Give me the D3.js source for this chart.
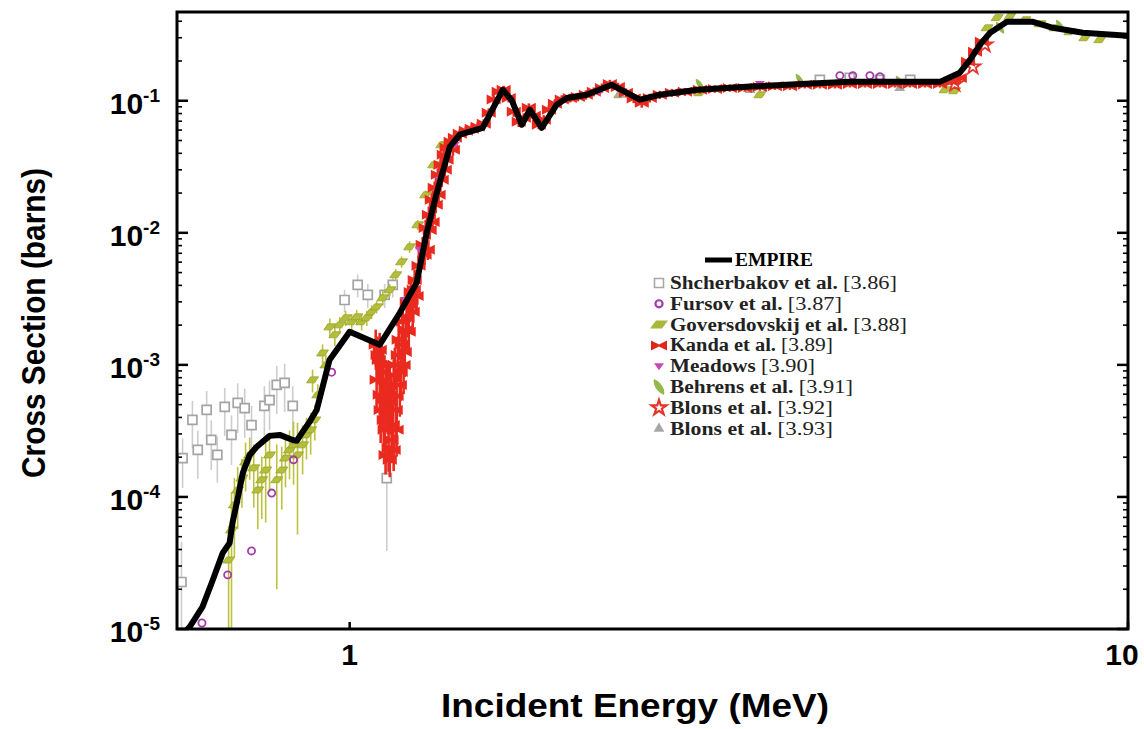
<!DOCTYPE html>
<html>
<head>
<meta charset="utf-8">
<script src="https://cdn.jsdelivr.net/npm/d3@7"></script>
<style>
    body { margin: 0; background: #fff; }
</style>
</head>
<body>
<div class="Canvas"></div>
<script>
// EMPIRE evaluation (energy in MeV, cross section in barns)
let empireE = [0.612, 0.623, 0.647, 0.667, 0.687, 0.701, 0.707, 0.716, 0.729, 0.744, 0.759, 0.789, 0.813, 0.845, 0.855,
    0.870, 0.888, 0.907, 0.923, 0.942, 1.0, 1.093, 1.160, 1.219, 1.256, 1.294, 1.345, 1.385, 1.482, 1.573, 1.615, 1.664,
    1.704, 1.765, 1.845, 1.901, 2.017, 2.171, 2.36, 2.503, 2.8, 3.27, 3.8, 4.39, 5.0, 5.73, 6.08, 6.27, 6.45, 6.65, 6.99,
    7.55, 8.01, 8.75, 10];
let empireS = [9.2e-6, 1.04e-5, 1.47e-5, 2.35e-5, 3.77e-5, 4.48e-5, 6.35e-5, 9.0e-5, 1.52e-4, 2.08e-4, 2.39e-4, 2.90e-4,
    2.95e-4, 2.70e-4, 2.66e-4, 3.11e-4, 3.70e-4, 4.56e-4, 6.8e-4, 1.09e-3, 1.78e-3, 1.42e-3, 2.48e-3, 4.18e-3, 1.0e-2,
    2.01e-2, 4.49e-2, 5.53e-2, 6.24e-2, 0.121, 0.101, 0.0658, 0.0855, 0.0624, 0.0933, 0.105, 0.111, 0.132, 0.102, 0.111,
    0.121, 0.128, 0.134, 0.139, 0.139, 0.139, 0.163, 0.205, 0.265, 0.327, 0.396, 0.396, 0.357, 0.327, 0.310];

// experimental sets: [energy, cross section, error]
let shcherbakov = [
    [0.608, 2.27e-5, 2.3e-5], [0.610, 1.97e-4, 8e-5], [0.628, 3.83e-4, 1.5e-4], [0.638, 2.27e-4, 9e-5],
    [0.655, 4.56e-4, 1.8e-4], [0.664, 2.70e-4, 1.1e-4], [0.676, 2.08e-4, 8e-5], [0.691, 4.8e-4, 1.9e-4],
    [0.705, 2.95e-4, 1.2e-4], [0.718, 5.15e-4, 2.1e-4], [0.733, 4.7e-4, 1.9e-4], [0.748, 3.5e-4, 1.4e-4],
    [0.777, 4.9e-4, 2.0e-4], [0.789, 5.4e-4, 2.2e-4], [0.806, 7.05e-4, 2.8e-4], [0.825, 7.3e-4, 2.9e-4],
    [0.845, 4.9e-4, 2.0e-4], [1.116, 1.39e-4, 1.0e-4],
    [0.985, 3.10e-3, 6e-4], [1.024, 4.04e-3, 8e-4], [1.055, 3.39e-3, 7e-4], [1.109, 3.39e-3, 7e-4], [1.136, 4.04e-3, 8e-4],
    [4.019, 0.144, 0.008], [4.39, 0.149, 0.008], [4.80, 0.144, 0.008], [5.25, 0.144, 0.008]
];
let fursov = [
    [0.646, 1.11e-5], [0.697, 2.57e-5], [0.748, 3.9e-5], [0.794, 1.07e-4], [0.847, 1.91e-4], [0.948, 8.8e-4],
    [1.27, 1.3e-2], [1.36, 4.5e-2], [4.264, 0.155], [4.43, 0.155], [4.66, 0.155], [4.80, 0.152]
];
let goversdovskij = [
    [0.699, 3.33e-5, 2.7e-5], [0.705, 5.62e-5, 5.3e-5], [0.711, 8.7e-5, 5.2e-5], [0.718, 1.13e-4, 5.6e-5],
    [0.727, 1.39e-4, 5.6e-5], [0.735, 1.84e-4, 7.4e-5], [0.744, 2.08e-4, 7.3e-5], [0.753, 1.66e-4, 8.3e-5],
    [0.762, 1.13e-4, 5.6e-5], [0.771, 1.35e-4, 6.7e-5], [0.780, 1.60e-4, 9.6e-5], [0.789, 2.08e-4, 1.0e-4],
    [0.806, 1.35e-4, 1.15e-4], [0.818, 1.60e-4, 8e-5], [0.827, 1.97e-4, 7.9e-5], [0.837, 2.27e-4, 9.1e-5],
    [0.847, 2.48e-4, 1.24e-4], [0.857, 2.08e-4, 1.56e-4], [0.870, 2.48e-4, 1e-4], [0.880, 2.95e-4, 1.03e-4],
    [0.891, 3.22e-4, 1.13e-4], [0.902, 3.83e-4, 1.15e-4],
    [0.896, 7.70e-4, 1.5e-4], [0.910, 5.93e-4, 1.2e-4], [0.923, 1.23e-3, 2e-4], [0.932, 1.0e-3, 2e-4],
    [0.943, 1.94e-3, 3e-4], [0.957, 1.69e-3, 3e-4], [0.971, 2.01e-3, 3e-4], [0.988, 2.27e-3, 3e-4],
    [1.006, 2.12e-3, 3e-4], [1.021, 2.31e-3, 3e-4], [1.036, 2.12e-3, 3e-4], [1.052, 2.27e-3, 3e-4],
    [1.067, 2.52e-3, 3e-4], [1.083, 2.75e-3, 3e-4], [1.103, 3.22e-3, 4e-4], [1.126, 3.70e-3, 4e-4],
    [1.146, 4.81e-3, 5e-4], [1.166, 6.03e-3, 6e-4], [1.194, 7.83e-3, 8e-4], [1.223, 1.15e-2, 1e-3],
    [1.252, 1.94e-2, 1.5e-3], [1.282, 3.27e-2, 2.5e-3], [1.313, 4.64e-2, 3e-3],
    [2.223, 0.111, 0.006], [2.818, 0.115, 0.006], [3.365, 0.111, 0.006], [5.82, 0.121, 0.006], [5.99, 0.119, 0.006],
    [6.59, 0.357, 0.015], [6.79, 0.426, 0.015], [7.05, 0.434, 0.015], [7.37, 0.411, 0.015], [7.71, 0.383, 0.015],
    [8.06, 0.357, 0.015], [8.42, 0.333, 0.015], [8.80, 0.300, 0.015], [9.20, 0.290, 0.015]
];
let kanda = [
    [1.080, 1.42e-3, 4.3e-4], [1.083, 7.70e-4, 3.1e-4], [1.090, 1.09e-3, 3.8e-4], [1.096, 4.56e-4, 2.0e-4],
    [1.103, 8.85e-4, 3.5e-4], [1.109, 3.22e-4, 1.3e-4], [1.116, 6.24e-4, 2.6e-4], [1.122, 2.35e-4, 8e-5],
    [1.129, 5.25e-4, 2.2e-4], [1.136, 3.51e-4, 1.4e-4], [1.143, 1.0e-3, 3.5e-4], [1.149, 5.82e-4, 2.4e-4],
    [1.156, 1.55e-3, 4.6e-4], [1.163, 8.85e-4, 3.5e-4], [1.170, 2.12e-3, 6.4e-4], [1.177, 1.25e-3, 4.4e-4],
    [1.184, 2.95e-3, 7.4e-4], [1.191, 1.78e-3, 5.3e-4], [1.198, 3.57e-3, 8.9e-4], [1.205, 2.52e-3, 7.6e-4],
    [1.212, 4.40e-3, 8.8e-4], [1.219, 3.33e-3, 8.3e-4], [1.226, 5.62e-3, 1.1e-3], [1.241, 8.11e-3, 1.2e-3],
    [1.086, 1.19e-3, 4.5e-4], [1.093, 5.93e-4, 2.5e-4], [1.099, 1.0e-3, 4.0e-4], [1.106, 3.83e-4, 1.5e-4],
    [1.112, 7.70e-4, 3.2e-4], [1.119, 4.98e-4, 2.0e-4], [1.126, 7.05e-4, 3.0e-4], [1.132, 2.70e-4, 9e-5],
    [1.139, 8.4e-4, 3.4e-4], [1.146, 4.56e-4, 1.8e-4], [1.153, 1.19e-3, 4.5e-4], [1.160, 7.05e-4, 3.0e-4],
    [1.166, 1.42e-3, 5.0e-4], [1.173, 1.0e-3, 4.0e-4], [1.180, 1.84e-3, 6.0e-4], [1.187, 2.27e-3, 6.5e-4],
    [1.194, 2.85e-3, 7.5e-4], [1.201, 3.10e-3, 8.0e-4], [1.209, 3.70e-3, 9.0e-4], [1.112, 2.08e-4, 6e-5],
    [1.126, 1.91e-4, 5e-5], [1.139, 2.27e-4, 7e-5], [1.149, 3.22e-4, 1.2e-4], [1.103, 5.43e-4, 2.1e-4],
    [1.093, 1.30e-3, 4.5e-4],
    [1.248, 6.81e-3, 1.1e-3], [1.267, 1.05e-2, 1.6e-3], [1.290, 1.63e-2, 2.2e-3], [1.313, 2.52e-2, 3.0e-3],
    [1.332, 3.57e-2, 3.8e-3], [1.357, 4.26e-2, 4.3e-3], [1.260, 7.43e-3, 1.2e-3], [1.278, 1.21e-2, 1.8e-3],
    [1.301, 1.94e-2, 2.5e-3], [1.325, 3.0e-2, 3.4e-3],
    [1.252, 1.09e-2, 1.6e-3], [1.264, 1.37e-2, 2.1e-3], [1.275, 1.78e-2, 2.1e-3], [1.286, 2.19e-2, 2.6e-3],
    [1.298, 2.75e-2, 3.3e-3], [1.309, 3.27e-2, 3.3e-3], [1.321, 3.90e-2, 3.9e-3], [1.332, 4.40e-2, 4.4e-3],
    [1.348, 4.89e-2, 4.9e-3], [1.365, 5.25e-2, 5.3e-3], [1.385, 5.62e-2, 4.5e-3], [1.410, 5.93e-2, 4.7e-3],
    [1.435, 6.14e-2, 4.9e-3], [1.460, 6.35e-2, 5.1e-3], [1.487, 6.70e-2, 5.4e-3], [1.509, 8.11e-2, 6.5e-3],
    [1.531, 0.102, 8e-3], [1.554, 0.117, 9e-3], [1.577, 0.121, 9e-3], [1.601, 0.105, 8e-3],
    [1.625, 0.0826, 7e-3], [1.649, 0.0693, 6e-3], [1.674, 0.0743, 6e-3], [1.699, 0.0885, 7e-3],
    [1.724, 0.0769, 6e-3], [1.750, 0.0658, 5e-3], [1.776, 0.0718, 6e-3], [1.803, 0.0855, 7e-3],
    [1.835, 0.0948, 8e-3], [1.873, 0.102, 8e-3], [1.918, 0.105, 8e-3], [1.964, 0.107, 8e-3],
    [2.011, 0.111, 9e-3], [2.059, 0.117, 9e-3], [2.109, 0.125, 0.01], [2.159, 0.134, 0.01],
    [2.211, 0.127, 0.01], [2.264, 0.115, 9e-3], [2.317, 0.104, 8e-3], [2.373, 0.0966, 8e-3],
    [2.430, 0.105, 8e-3], [2.503, 0.111, 8e-3], [2.594, 0.115, 8e-3], [2.696, 0.117, 8e-3],
    [2.818, 0.121, 8e-3], [2.946, 0.123, 8e-3], [3.079, 0.125, 8e-3], [3.219, 0.125, 8e-3],
    [3.365, 0.127, 8e-3], [3.518, 0.129, 8e-3], [3.678, 0.129, 8e-3], [3.844, 0.132, 8e-3],
    [4.019, 0.132, 8e-3], [4.202, 0.132, 8e-3], [4.392, 0.134, 8e-3], [4.592, 0.134, 8e-3],
    [4.800, 0.134, 8e-3], [5.018, 0.134, 8e-3], [5.246, 0.134, 8e-3], [5.484, 0.134, 8e-3],
    [5.733, 0.134, 8e-3], [5.94, 0.139, 8e-3], [6.08, 0.149, 9e-3], [6.23, 0.197, 0.012],
    [6.36, 0.235, 0.014], [6.49, 0.280, 0.016]
];
let meadows = [[1.177, 3.10e-3], [1.230, 7.43e-3], [1.305, 2.52e-2], [1.365, 4.64e-2], [2.096, 0.117], [3.365, 0.134], [4.80, 0.139]];
let behrens = [[2.818, 0.132], [3.788, 0.144], [5.093, 0.139], [6.85, 0.357], [8.18, 0.370]];
let blons92 = [[5.99, 0.134], [6.32, 0.181], [6.55, 0.265]];
let blons93 = [[2.223, 0.111], [3.27, 0.121], [5.09, 0.125]];

let yTickValues = [1e-5, 1e-4, 1e-3, 1e-2, 1e-1];
let yTickExps = ['-5', '-4', '-3', '-2', '-1'];
let xTickValues = [1, 10];
let xTickLabels = ['1', '10'];

let legendNames = ['Shcherbakov et al. ', 'Fursov et al. ', 'Goversdovskij et al. ', 'Kanda et al. ', 'Meadows ',
    'Behrens et al. ', 'Blons et al. ', 'Blons et al. '];
let legendRefs = ['[3.86]', '[3.87]', '[3.88]', '[3.89]', '[3.90]', '[3.91]', '[3.92]', '[3.93]'];
let legendWidths = [227, 172, 237, 163, 145, 183, 163, 163];

let width = 1144;
let height = 729;
let plotLeft = 177, plotRight = 1128, plotTop = 12, plotBottom = 629;
let sans = 'Liberation Sans, Arial, Helvetica, sans-serif';
let serif = 'Liberation Serif, Times New Roman, serif';

let x = d3.scaleLog().domain([0.6, 10]).range([plotLeft, plotRight]);
let y = d3.scaleLog().domain([1e-5, 0.47]).range([plotBottom, plotTop]);

let svg = d3.select('.Canvas').append('svg').attr('width', width).attr('height', height);
svg.append('rect').attr('width', width).attr('height', height).attr('fill', '#fff');
svg.append('clipPath').attr('id', 'plotClip')
    .append('rect').attr('x', plotLeft).attr('y', plotTop)
    .attr('width', plotRight - plotLeft).attr('height', plotBottom - plotTop);

let plot = svg.append('g').attr('clip-path', 'url(#plotClip)');

let shapes = {
    square: 'M-4.5,-4.5H4.5V4.5H-4.5Z',
    circle: d3.symbol(d3.symbolCircle, 40)(),
    gov: 'M-6,3L-2,-3H6L2,3Z',
    kanda: 'M-7,-5L0,-1.5L7,-5V5L0,1.5L-7,5Z',
    meadows: 'M-5,-3H5L0,4Z',
    behrens: 'M-4,-6C-5,-1 0,5 4,6C5,1 0,-5 -4,-6Z',
    star: d3.symbol(d3.symbolStar, 70)(),
    club: d3.symbol(d3.symbolTriangle, 50)(),
};

function errorBars(data, color, w) {
    plot.append('g').selectAll('line')
        .data(data)
        .enter()
        .append('line')
        .attr('x1', (d) => x(d[0]))
        .attr('x2', (d) => x(d[0]))
        .attr('y1', (d) => y(d[1] + d[2]))
        .attr('y2', (d) => (d[1] - d[2] > 1e-7 ? y(d[1] - d[2]) : plotBottom + 5))
        .attr('stroke', color)
        .attr('stroke-width', w);
}

function markers(data, shape, fill, stroke, sw) {
    plot.append('g').selectAll('path')
        .data(data)
        .enter()
        .append('path')
        .attr('d', shape)
        .attr('transform', (d) => `translate(${x(d[0])},${y(d[1])})`)
        .attr('fill', fill)
        .attr('stroke', stroke)
        .attr('stroke-width', sw);
}

errorBars(shcherbakov, '#cdcdcd', 1.6);
markers(shcherbakov, shapes.square, '#fff', '#a4a4a4', 1.7);
errorBars(goversdovskij, '#bcc23e', 1.6);
markers(goversdovskij, shapes.gov, '#b4bd3c', '#98a424', 0.8);
markers(fursov, shapes.circle, 'none', '#a53da8', 1.8);
markers(blons93, shapes.club, '#a8a8a8', 'none', 0);
markers(behrens, shapes.behrens, '#96b84a', 'none', 0);
errorBars(kanda, '#ea2a1f', 2.6);
markers(kanda, shapes.kanda, '#ea2a1f', 'none', 0);
markers(meadows, shapes.meadows, '#c94ab3', 'none', 0);
markers(blons92, shapes.star, 'none', '#e2362a', 1.8);

let line = d3.line().x((d) => x(d[0])).y((d) => y(d[1]));
plot.append('path')
    .datum(empireE.map((e, i) => [e, empireS[i]]))
    .attr('d', line)
    .attr('fill', 'none')
    .attr('stroke', '#000')
    .attr('stroke-width', 6)
    .attr('stroke-linejoin', 'round');

// ticks on left and right axes
let minor = [];
for (let p = -5; p <= -1; p++) {
    for (let k = 2; k <= 9; k++) {
        let v = k * Math.pow(10, p);
        if (v < 0.47) minor.push(v);
    }
}
let ticks = svg.append('g').attr('stroke', '#000');
[plotLeft, plotRight].forEach((x0) => {
    let dir = x0 == plotLeft ? 1 : -1;
    ticks.selectAll(null).data(yTickValues).enter().append('line')
        .attr('x1', x0).attr('x2', x0 + dir * 11)
        .attr('y1', (d) => y(d)).attr('y2', (d) => y(d))
        .attr('stroke-width', 2.5);
    ticks.selectAll(null).data(minor).enter().append('line')
        .attr('x1', x0).attr('x2', x0 + dir * 5)
        .attr('y1', (d) => y(d)).attr('y2', (d) => y(d))
        .attr('stroke-width', 1.6);
});
ticks.selectAll(null).data(xTickValues).enter().append('line')
    .attr('x1', (d) => x(d)).attr('x2', (d) => x(d))
    .attr('y1', plotBottom).attr('y2', plotBottom - 7)
    .attr('stroke-width', 2.5);

svg.append('rect')
    .attr('x', plotLeft).attr('y', plotTop)
    .attr('width', plotRight - plotLeft).attr('height', plotBottom - plotTop)
    .attr('fill', 'none').attr('stroke', '#000').attr('stroke-width', 3);

// tick labels
let yLab = svg.append('g').attr('font-family', sans).attr('font-weight', 'bold');
yTickValues.forEach((v, i) => {
    let t = yLab.append('text')
        .attr('x', 160).attr('y', y(v) + 13)
        .attr('text-anchor', 'end')
        .attr('font-size', 30);
    t.append('tspan').text('10');
    t.append('tspan').attr('font-size', 19).attr('dy', -12).text(yTickExps[i]);
});
xTickValues.forEach((v, i) => {
    svg.append('text')
        .attr('x', i == 0 ? x(v) : x(v) - 6).attr('y', 665)
        .attr('text-anchor', 'middle')
        .attr('font-family', sans).attr('font-weight', 'bold').attr('font-size', 30)
        .text(xTickLabels[i]);
});

svg.append('text')
    .attr('transform', 'translate(45,323) rotate(-90)')
    .attr('text-anchor', 'middle')
    .attr('font-family', sans).attr('font-weight', 'bold').attr('font-size', 33)
    .attr('textLength', 310).attr('lengthAdjust', 'spacingAndGlyphs')
    .text('Cross Section (barns)');
svg.append('text')
    .attr('x', 635).attr('y', 717)
    .attr('text-anchor', 'middle')
    .attr('font-family', sans).attr('font-weight', 'bold').attr('font-size', 33)
    .attr('textLength', 388).attr('lengthAdjust', 'spacingAndGlyphs')
    .text('Incident Energy (MeV)');

// legend
let legend = svg.append('g');
legend.append('line')
    .attr('x1', 705).attr('x2', 732).attr('y1', 260).attr('y2', 260)
    .attr('stroke', '#000').attr('stroke-width', 5);
legend.append('text')
    .attr('x', 735).attr('y', 266)
    .attr('font-family', serif).attr('font-weight', 'bold').attr('font-size', 18)
    .attr('textLength', 78).attr('lengthAdjust', 'spacingAndGlyphs')
    .text('EMPIRE');

let legendShapes = [
    [shapes.square, '#fff', '#a8a8a8', 1.6],
    [shapes.circle, 'none', '#a53da8', 2.2],
    ['M-9,4L-3,-4H9L3,4Z', '#a9b83a', 'none', 0],
    ['M-8,-5L0,-1L8,-5V5L0,1L-8,5Z', '#e0261b', 'none', 0],
    [shapes.meadows, '#c64ab3', 'none', 0],
    ['M-5,-8C-7,-1 0,6 5,8C7,1 0,-6 -5,-8Z', '#95b84a', 'none', 0],
    [shapes.star, 'none', '#e2362a', 2.2],
    [shapes.club, '#a6a6a6', 'none', 0],
];
legendNames.forEach((name, i) => {
    let cy = 283 + i * 20.8;
    let s = legendShapes[i];
    legend.append('path')
        .attr('d', s[0])
        .attr('transform', `translate(659,${cy})`)
        .attr('fill', s[1]).attr('stroke', s[2]).attr('stroke-width', s[3]);
    let t = legend.append('text')
        .attr('x', 670).attr('y', cy + 6)
        .attr('font-family', serif).attr('font-size', 18)
        .attr('textLength', legendWidths[i]).attr('lengthAdjust', 'spacingAndGlyphs')
        .attr('fill', '#222');
    t.append('tspan').attr('font-weight', 'bold').text(name);
    t.append('tspan').attr('font-size', 19).text(legendRefs[i]);
});
</script>
</body>
</html>
